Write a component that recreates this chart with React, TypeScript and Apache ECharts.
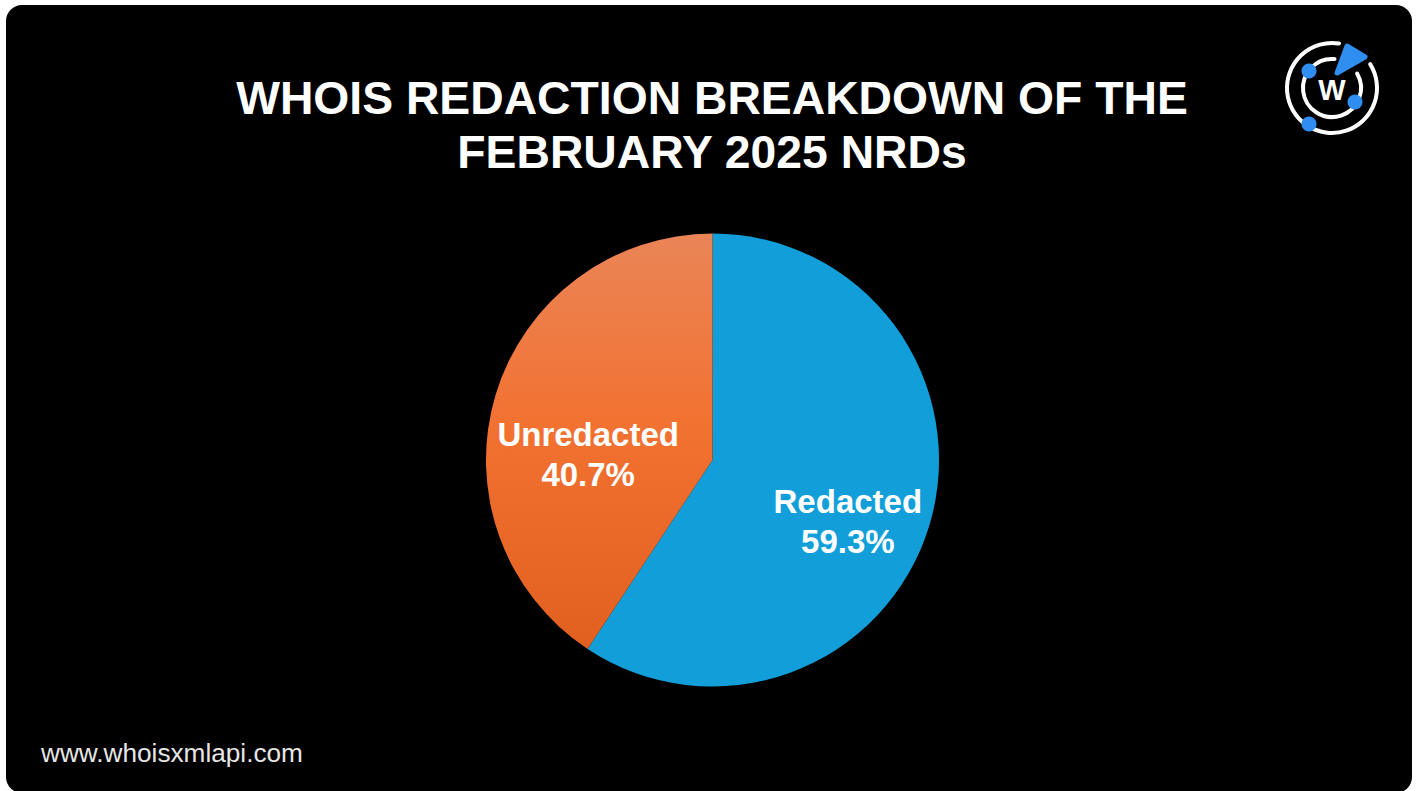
import React, { useEffect, useRef } from "react";
import * as echarts from "echarts";

const titleLines = ["WHOIS REDACTION BREAKDOWN OF THE", "FEBRUARY 2025 NRDs"];
const categories = ["Redacted", "Unredacted"];
const shares = [59.3, 40.7];
const siteUrl = "www.whoisxmlapi.com";

const FONT = '"Liberation Sans", Arial, sans-serif';
const deg = (d: number) => (d * Math.PI) / 180;

// Brand mark: two broken rings, three dots, a wedge and the W.
const LOGO_X = 1332;
const LOGO_Y = 88;
const BRAND_BLUE = "#2f8ef0";

function logoElements() {
  const ring = (r: number, startDeg: number, endDeg: number) => ({
    type: "arc",
    z: 5,
    shape: { cx: LOGO_X, cy: LOGO_Y, r, startAngle: deg(startDeg), endAngle: deg(endDeg), clockwise: true },
    style: { stroke: "#ffffff", lineWidth: 4, fill: "none", lineCap: "round" },
  });
  const dot = (x: number, y: number) => ({
    type: "circle",
    z: 6,
    shape: { cx: x, cy: y, r: 7.5 },
    style: { fill: BRAND_BLUE },
  });
  return [
    ring(45, -32, 279),
    ring(29, -30, 275),
    dot(1309, 71),
    dot(1355, 102),
    dot(1309, 124),
    {
      type: "polygon",
      z: 6,
      shape: { points: [[1347, 46], [1365, 57], [1337, 73]] },
      style: { fill: BRAND_BLUE, stroke: BRAND_BLUE, lineWidth: 5, lineJoin: "round" },
    },
    {
      type: "text",
      z: 6,
      x: LOGO_X,
      y: 90,
      style: { text: "W", fill: "#ffffff", font: `bold 29px ${FONT}`, textAlign: "center", textVerticalAlign: "middle" },
    },
  ];
}

export default function App() {
  const ref = useRef<HTMLDivElement>(null);

  useEffect(() => {
    document.body.style.margin = "0";
    const chart = echarts.init(ref.current!, undefined, { renderer: "svg" });

    const labelOffsets = [
      [24, 28],
      [-13, 28],
    ];
    const fills = [
      "#129fd9",
      {
        type: "linear",
        x: 0,
        y: 0,
        x2: 0,
        y2: 1,
        colorStops: [
          { offset: 0, color: "#ea8557" },
          { offset: 0.45, color: "#f27232" },
          { offset: 1, color: "#e2601f" },
        ],
      },
    ];

    chart.setOption({
      animation: false,
      backgroundColor: "#ffffff",
      title: {
        text: titleLines.join("\n"),
        left: 707,
        top: 66,
        textAlign: "center",
        textStyle: {
          color: "#ffffff",
          fontFamily: FONT,
          fontWeight: "bold",
          fontSize: 46.3,
          lineHeight: 54,
        },
      },
      graphic: [
        {
          type: "rect",
          z: 0,
          shape: { x: 6, y: 5, width: 1406, height: 788, r: 16 },
          style: { fill: "#000000" },
        },
        ...logoElements(),
        {
          type: "text",
          z: 5,
          x: 41,
          y: 753,
          style: {
            text: siteUrl,
            fill: "#e6e6e6",
            font: `26.2px ${FONT}`,
            textAlign: "left",
            textVerticalAlign: "middle",
          },
        },
      ],
      series: [
        {
          type: "pie",
          center: [712.5, 460],
          radius: [0, 226.5],
          startAngle: 90,
          clockwise: true,
          silent: true,
          labelLine: { show: false },
          data: categories.map((name, i) => ({
            name,
            value: shares[i],
            itemStyle: { color: fills[i] },
            label: {
              show: true,
              position: "inside",
              offset: labelOffsets[i],
              formatter: "{b}\n{c}%",
              color: "#ffffff",
              fontFamily: FONT,
              fontWeight: "bold",
              fontSize: 33,
              lineHeight: 40,
              align: "center",
            },
          })),
        },
      ],
    });

    return () => chart.dispose();
  }, []);

  return <div ref={ref} style={{ width: 1417, height: 791 }} />;
}
